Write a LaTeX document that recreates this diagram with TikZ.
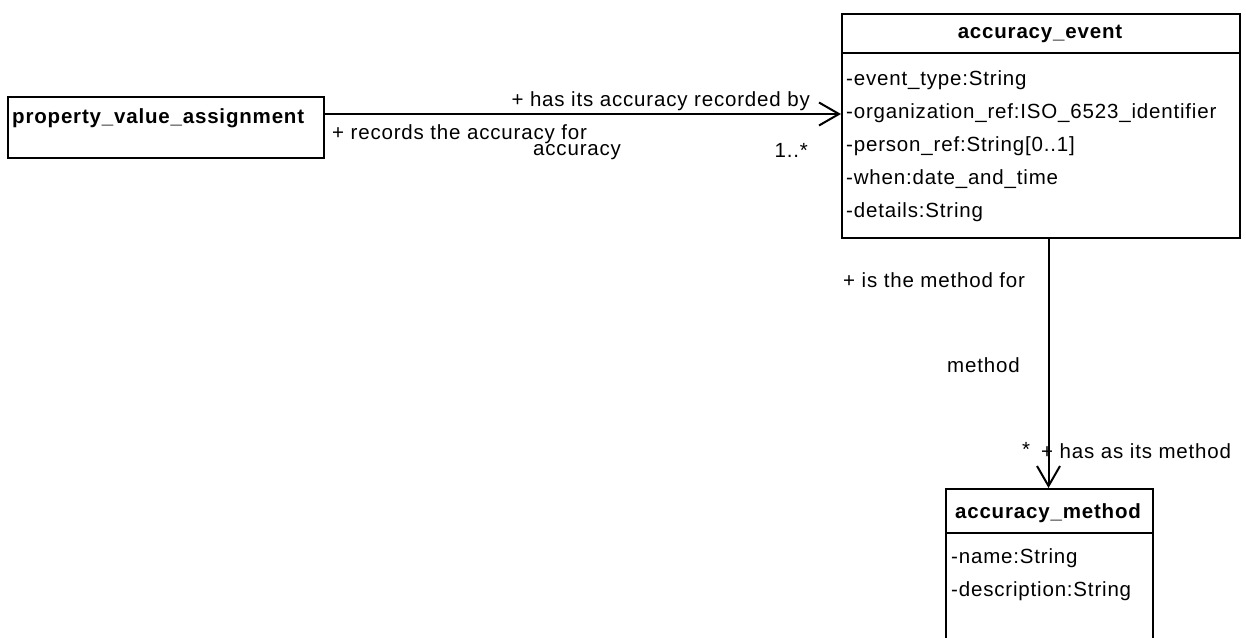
\documentclass[tikz,border=0pt]{standalone}
\usepackage{fontspec}
\setmainfont{Liberation Sans}[LetterSpace=4]
\usetikzlibrary{arrows.meta}
\begin{document}
\begin{tikzpicture}[x=1pt,y=-1pt,
  box/.style={draw,line width=2pt,inner sep=0pt,anchor=north west},
  lbl/.style={inner sep=0pt,font=\fontsize{20.5}{22}\selectfont},
  ttl/.style={inner sep=0pt,font=\fontsize{20.5}{22}\selectfont\bfseries},
  assoc/.style={line width=2pt,-{Straight Barb[length=20pt,width=23pt,line width=2pt]}}]
\clip (0,0) rectangle (1246,637);
\fill[white] (0,0) rectangle (1246,637);
% property_value_assignment
\node[box,minimum width=316pt,minimum height=61pt] (pva) at (7,96) {};
\node[ttl,anchor=west] (pvat) at (12,118) {property\_value\_assignment};
% accuracy_event
\node[box,minimum width=398pt,minimum height=224pt] (ae) at (841,13) {};
\draw[line width=2pt] ([yshift=-40pt]ae.north west) -- ([yshift=-40pt]ae.north east);
\node[ttl] (aet) at (1040,34) {accuracy\_event};
\node[lbl,anchor=west] (a1) at (846,80) {-event\_type:String};
\node[lbl,anchor=west] (a2) at (846,113) {-organization\_ref:ISO\_6523\_identifier};
\node[lbl,anchor=west] (a3) at (846,146) {-person\_ref:String[0..1]};
\node[lbl,anchor=west] (a4) at (846,179) {-when:date\_and\_time};
\node[lbl,anchor=west] (a5) at (846,212) {-details:String};
% accuracy_method
\node[box,minimum width=207pt,minimum height=200pt] (am) at (945,488) {};
\draw[line width=2pt] ([yshift=-45pt]am.north west) -- ([yshift=-45pt]am.north east);
\node[ttl] (amt) at (1048,513) {accuracy\_method};
\node[lbl,anchor=west] (m1) at (951,558) {-name:String};
\node[lbl,anchor=west] (m2) at (951,591) {-description:String};
% connectors
\draw[assoc] ([yshift=-18pt]pva.north east) -- ([yshift=-18pt]pva.north east -| ae.west);
\draw[assoc] ([xshift=-1pt]am.north |- ae.south) -- ([xshift=-1pt]am.north);
% labels
\node[lbl,anchor=east] (l1) at (810,101) {+ has its accuracy recorded by};
\node[lbl,anchor=west] (l2) at (332,134) {+ records the accuracy for};
\node[lbl,anchor=west] (l3) at (533,152) {accuracy};
\node[lbl,anchor=east] (l4) at (808,150) {1..*};
\node[lbl,anchor=west] (l5) at (843,280) {+ is the method for};
\node[lbl,anchor=west] (l6) at (947,365) {method};
\node[lbl,anchor=west] (l7) at (1022,449) {*};
\node[lbl,anchor=west] (l8) at (1041,451) {+ has as its method};
\end{tikzpicture}
\end{document}
